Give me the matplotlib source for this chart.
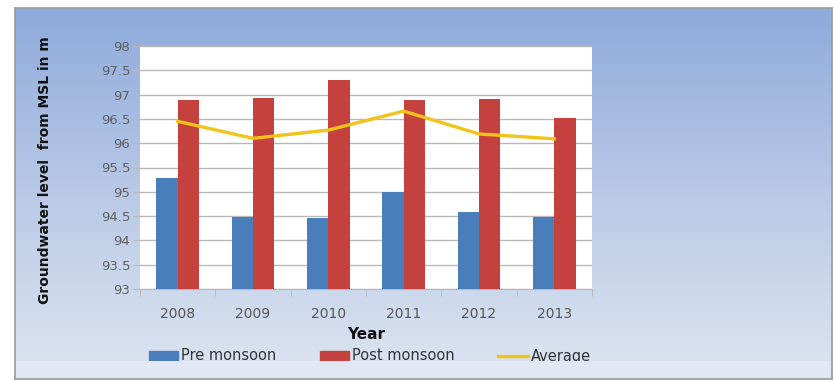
import matplotlib
matplotlib.use("Agg")
import matplotlib.pyplot as plt
import numpy as np
from matplotlib.patches import Patch, Rectangle
from matplotlib.lines import Line2D
from matplotlib.colors import LinearSegmentedColormap

years = ["2008", "2009", "2010", "2011", "2012", "2013"]
pre_monsoon = [95.28, 94.48, 94.46, 94.99, 94.59, 94.48]
post_monsoon = [96.88, 96.94, 97.31, 96.88, 96.91, 96.52]
average = [96.45, 96.10, 96.27, 96.66, 96.19, 96.09]
yticks = [93, 93.5, 94, 94.5, 95, 95.5, 96, 96.5, 97, 97.5, 98]

W, H = 834, 383
fig = plt.figure(figsize=(W / 100, H / 100), dpi=100)
fig.patch.set_facecolor("white")

# gradient background panel
bg = fig.add_axes([15 / W, 1 - 379 / H, (832 - 15) / W, (379 - 8) / H], zorder=-5)
cmap = LinearSegmentedColormap.from_list("bg", ["#8eaadc", "#b9c9e6", "#dde5f1"])
grad = np.linspace(0, 1, 256).reshape(-1, 1)
bg.imshow(grad, aspect="auto", cmap=cmap, extent=[0, 1, 0, 1])
bg.set_xticks([]); bg.set_yticks([])
for s in bg.spines.values():
    s.set_color("#9a9a9a"); s.set_linewidth(1.2)

ax = fig.add_axes([140 / W, 1 - 289 / H, (592 - 140) / W, (289 - 46) / H])
ax.set_facecolor("white")
x = np.arange(len(years))
bw = 0.285
ax.bar(x - bw / 2, [p - 93 for p in pre_monsoon], bw, bottom=93, color="#4a7ebb", zorder=3)
ax.bar(x + bw / 2, [p - 93 for p in post_monsoon], bw, bottom=93, color="#c4413e", zorder=3)
ax.plot(x, average, color="#f2c318", lw=2.4, zorder=4)

ax.set_xlim(-0.5, len(years) - 0.5)
ax.set_ylim(93, 98)
ax.set_yticks(yticks)
ax.set_yticklabels([f"{v:g}" for v in yticks], color="#606060", fontsize=9.5)
ax.yaxis.grid(True, color="#b8b8b8", lw=1.0, zorder=0)
ax.tick_params(axis="y", length=5, color="#b8b8b8", pad=2)
ax.set_xticks(x)
ax.set_xticklabels(years, color="#555555", fontsize=10)
ax.tick_params(axis="x", length=0, pad=13)
ax.set_xticks(np.arange(-0.5, len(years), 1), minor=True)
ax.tick_params(axis="x", which="minor", length=5, color="#b8b8b8")
for s in ["top", "right", "left"]:
    ax.spines[s].set_visible(False)
ax.spines["bottom"].set_color("#b8b8b8")

ax.set_xlabel("Year", fontsize=11, fontweight="bold", color="#111111", labelpad=4)
fig.text(45 / W, 1 - 170 / H, "Groundwater level  from MSL in m", rotation=90,
         ha="center", va="center", fontsize=10, fontweight="bold", color="#111111")

handles = [Patch(color="#4a7ebb"), Patch(color="#c4413e"),
           Line2D([0], [0], color="#f2c318", lw=2.4)]
fig.legend(handles, ["Pre monsoon", "Post monsoon", "Average"], ncol=3,
           loc="center left", bbox_to_anchor=(143 / W, 1 - 356 / H), frameon=False,
           fontsize=10.5, handlelength=2.0, handleheight=0.6, columnspacing=3.0,
           handletextpad=0.2, labelcolor="#333333", borderaxespad=0)

# lighter bottom band that crops the legend text
fig.add_artist(Rectangle((16 / W, 1 - 378 / H), (830 - 16) / W, (378 - 361) / H,
                         transform=fig.transFigure, facecolor="#e1e8f3",
                         edgecolor="none", zorder=10))

fig.savefig("out.png", dpi=100)
